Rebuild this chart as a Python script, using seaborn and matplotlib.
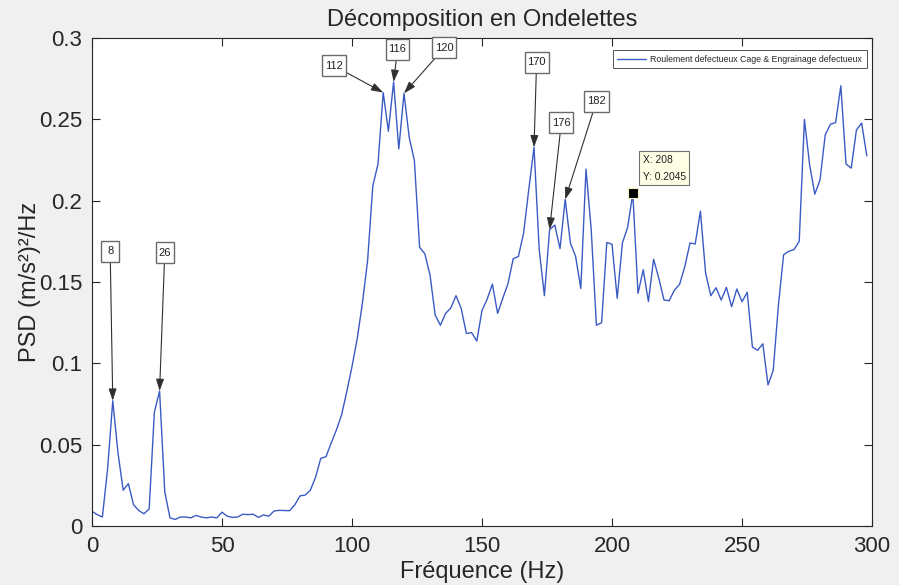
import numpy as np
import pandas as pd
import matplotlib
matplotlib.use("Agg")
import matplotlib.pyplot as plt
from matplotlib.path import Path
import seaborn as sns

# Frequency axis (Hz), 2 Hz resolution
freq = list(range(0, 300, 2))

# Power spectral density of the wavelet-decomposed signal, (m/s^2)^2/Hz
psd = [
    0.009, 0.007, 0.0055, 0.035, 0.077, 0.045, 0.022, 0.026, 0.013, 0.0095,
    0.0075, 0.0105, 0.070, 0.083, 0.021, 0.005, 0.004, 0.0055, 0.0055, 0.005,
    0.0065, 0.0055, 0.005, 0.0055, 0.005, 0.0085, 0.006, 0.0053, 0.0055, 0.0072,
    0.007, 0.0072, 0.0053, 0.0068, 0.006, 0.0092, 0.0096, 0.0095, 0.0094, 0.013,
    0.0185, 0.019, 0.022, 0.030, 0.0416, 0.0426, 0.051, 0.059, 0.0683, 0.0826,
    0.098, 0.115, 0.137, 0.163, 0.209, 0.2225, 0.2665, 0.2427, 0.273, 0.2318,
    0.266, 0.239, 0.2246, 0.1713, 0.1674, 0.1544, 0.1296, 0.1234, 0.1307, 0.134,
    0.1416, 0.1337, 0.1183, 0.1189, 0.1137, 0.1325, 0.1395, 0.1487, 0.1307, 0.140,
    0.149, 0.1643, 0.1657, 0.180, 0.207, 0.2328, 0.170, 0.1416, 0.1822, 0.185,
    0.1705, 0.2008, 0.174, 0.1657, 0.146, 0.2194, 0.1822, 0.1234, 0.125, 0.1743,
    0.1732, 0.140, 0.174, 0.1835, 0.2045, 0.143, 0.1575, 0.138, 0.164, 0.1523,
    0.1389, 0.1385, 0.145, 0.1486, 0.1595, 0.174, 0.1734, 0.1936, 0.1554, 0.1416,
    0.1465, 0.1389, 0.1467, 0.1348, 0.1457, 0.1379, 0.1437, 0.110, 0.108, 0.112,
    0.0867, 0.0956, 0.1358, 0.1668, 0.1689, 0.1699, 0.175, 0.250, 0.222, 0.204,
    0.2128, 0.2405, 0.247, 0.248, 0.2706, 0.2225, 0.220, 0.2435, 0.2477, 0.2276,
]

# Marked peaks and where their labels sit (label centre in data units)
peak_freqs = [8, 26, 112, 116, 120, 170, 176, 182]
label_pos = [(7, 0.169), (28, 0.168), (93, 0.283), (117.5, 0.293),
             (135.5, 0.294), (171, 0.285), (180.5, 0.248), (194, 0.261)]

# Data cursor
tip_freq = 208

x_ticks = [0, 50, 100, 150, 200, 250, 300]
y_ticks = [0, 0.05, 0.1, 0.15, 0.2, 0.25, 0.3]
y_ticklabels = ["0", "0.05", "0.1", "0.15", "0.2", "0.25", "0.3"]

series_name = "Roulement defectueux Cage & Engrainage defectueux"
df = pd.DataFrame({"Fréquence": freq, "PSD": psd})


def tag_box(x0, y0, width, height, mutation_size, padx=0.25, pady=0.5,
            min_width=1.6):
    """Rectangular label frame with a minimum width and roomy top/bottom."""
    px = padx * mutation_size
    py = pady * mutation_size
    w = max(width + 2 * px, min_width * mutation_size)
    cx = x0 + width / 2
    xa, xb = cx - w / 2, cx + w / 2
    ya, yb = y0 - py, y0 + height + py
    return Path([(xa, ya), (xb, ya), (xb, yb), (xa, yb), (xa, ya)], closed=True)


sns.set_style("ticks")
plt.rcParams["font.family"] = ["Liberation Sans", "DejaVu Sans"]

fig = plt.figure(figsize=(8.99, 5.85), dpi=100, facecolor="#f0f0f0")
ax = fig.add_axes([0.1023, 0.1009, 0.8677, 0.8341])
ax.set_facecolor("white")

sns.lineplot(data=df, x="Fréquence", y="PSD", ax=ax, color="#3a5bc4",
             linewidth=1.0, label=series_name)

ax.set_xlim(0, 300)
ax.set_ylim(0, 0.3)
ax.set_xticks(x_ticks)
ax.set_yticks(y_ticks)
ax.set_yticklabels(y_ticklabels)
ax.tick_params(direction="in", length=6, width=0.8, color="#262626",
               labelsize=16, top=True, right=True, pad=7)
for s in ax.spines.values():
    s.set_visible(True)
    s.set_color("#262626")
    s.set_linewidth(0.8)

ax.set_xlabel("Fréquence (Hz)", fontsize=17, labelpad=3)
ax.set_ylabel("PSD (m/s²)²/Hz", fontsize=17, labelpad=-1.5)
ax.set_title("Décomposition en Ondelettes", fontsize=17, pad=9)

# Peak labels with arrows
lookup = dict(zip(freq, psd))
for f, (tx, ty) in zip(peak_freqs, label_pos):
    ax.annotate(str(f), xy=(f, lookup[f]), xytext=(tx, ty),
                ha="center", va="center", fontsize=8, color="#202020",
                bbox=dict(boxstyle=tag_box, fc="white", ec="#6a6a6a", lw=1.0),
                arrowprops=dict(arrowstyle="-|>,head_length=0.9,head_width=0.3",
                                color="#303030", lw=0.8, shrinkA=0, shrinkB=0))

# Data cursor marker and readout
ty_val = lookup[tip_freq]
ax.plot([tip_freq], [ty_val], marker="s", markersize=6.5, color="black",
        markeredgecolor="#f5efc0", markeredgewidth=0.8, zorder=5)
ax.text(tip_freq + 3.8, ty_val + 0.0072, f"X: {tip_freq}\nY: {ty_val}",
        ha="left", va="bottom", fontsize=7.4, linespacing=1.85, color="#202020",
        bbox=dict(boxstyle="square,pad=0.35", fc="#ffffe6", ec="#707070", lw=0.8),
        zorder=6)

leg = ax.legend(loc="upper right", bbox_to_anchor=(0.993, 0.975),
                borderaxespad=0, fontsize=6.3, frameon=True, fancybox=False,
                handlelength=3.3, borderpad=0.5, handletextpad=0.5)
leg.get_frame().set_edgecolor("#262626")
leg.get_frame().set_linewidth(0.7)

fig.savefig("out.png", dpi=100, facecolor=fig.get_facecolor())
